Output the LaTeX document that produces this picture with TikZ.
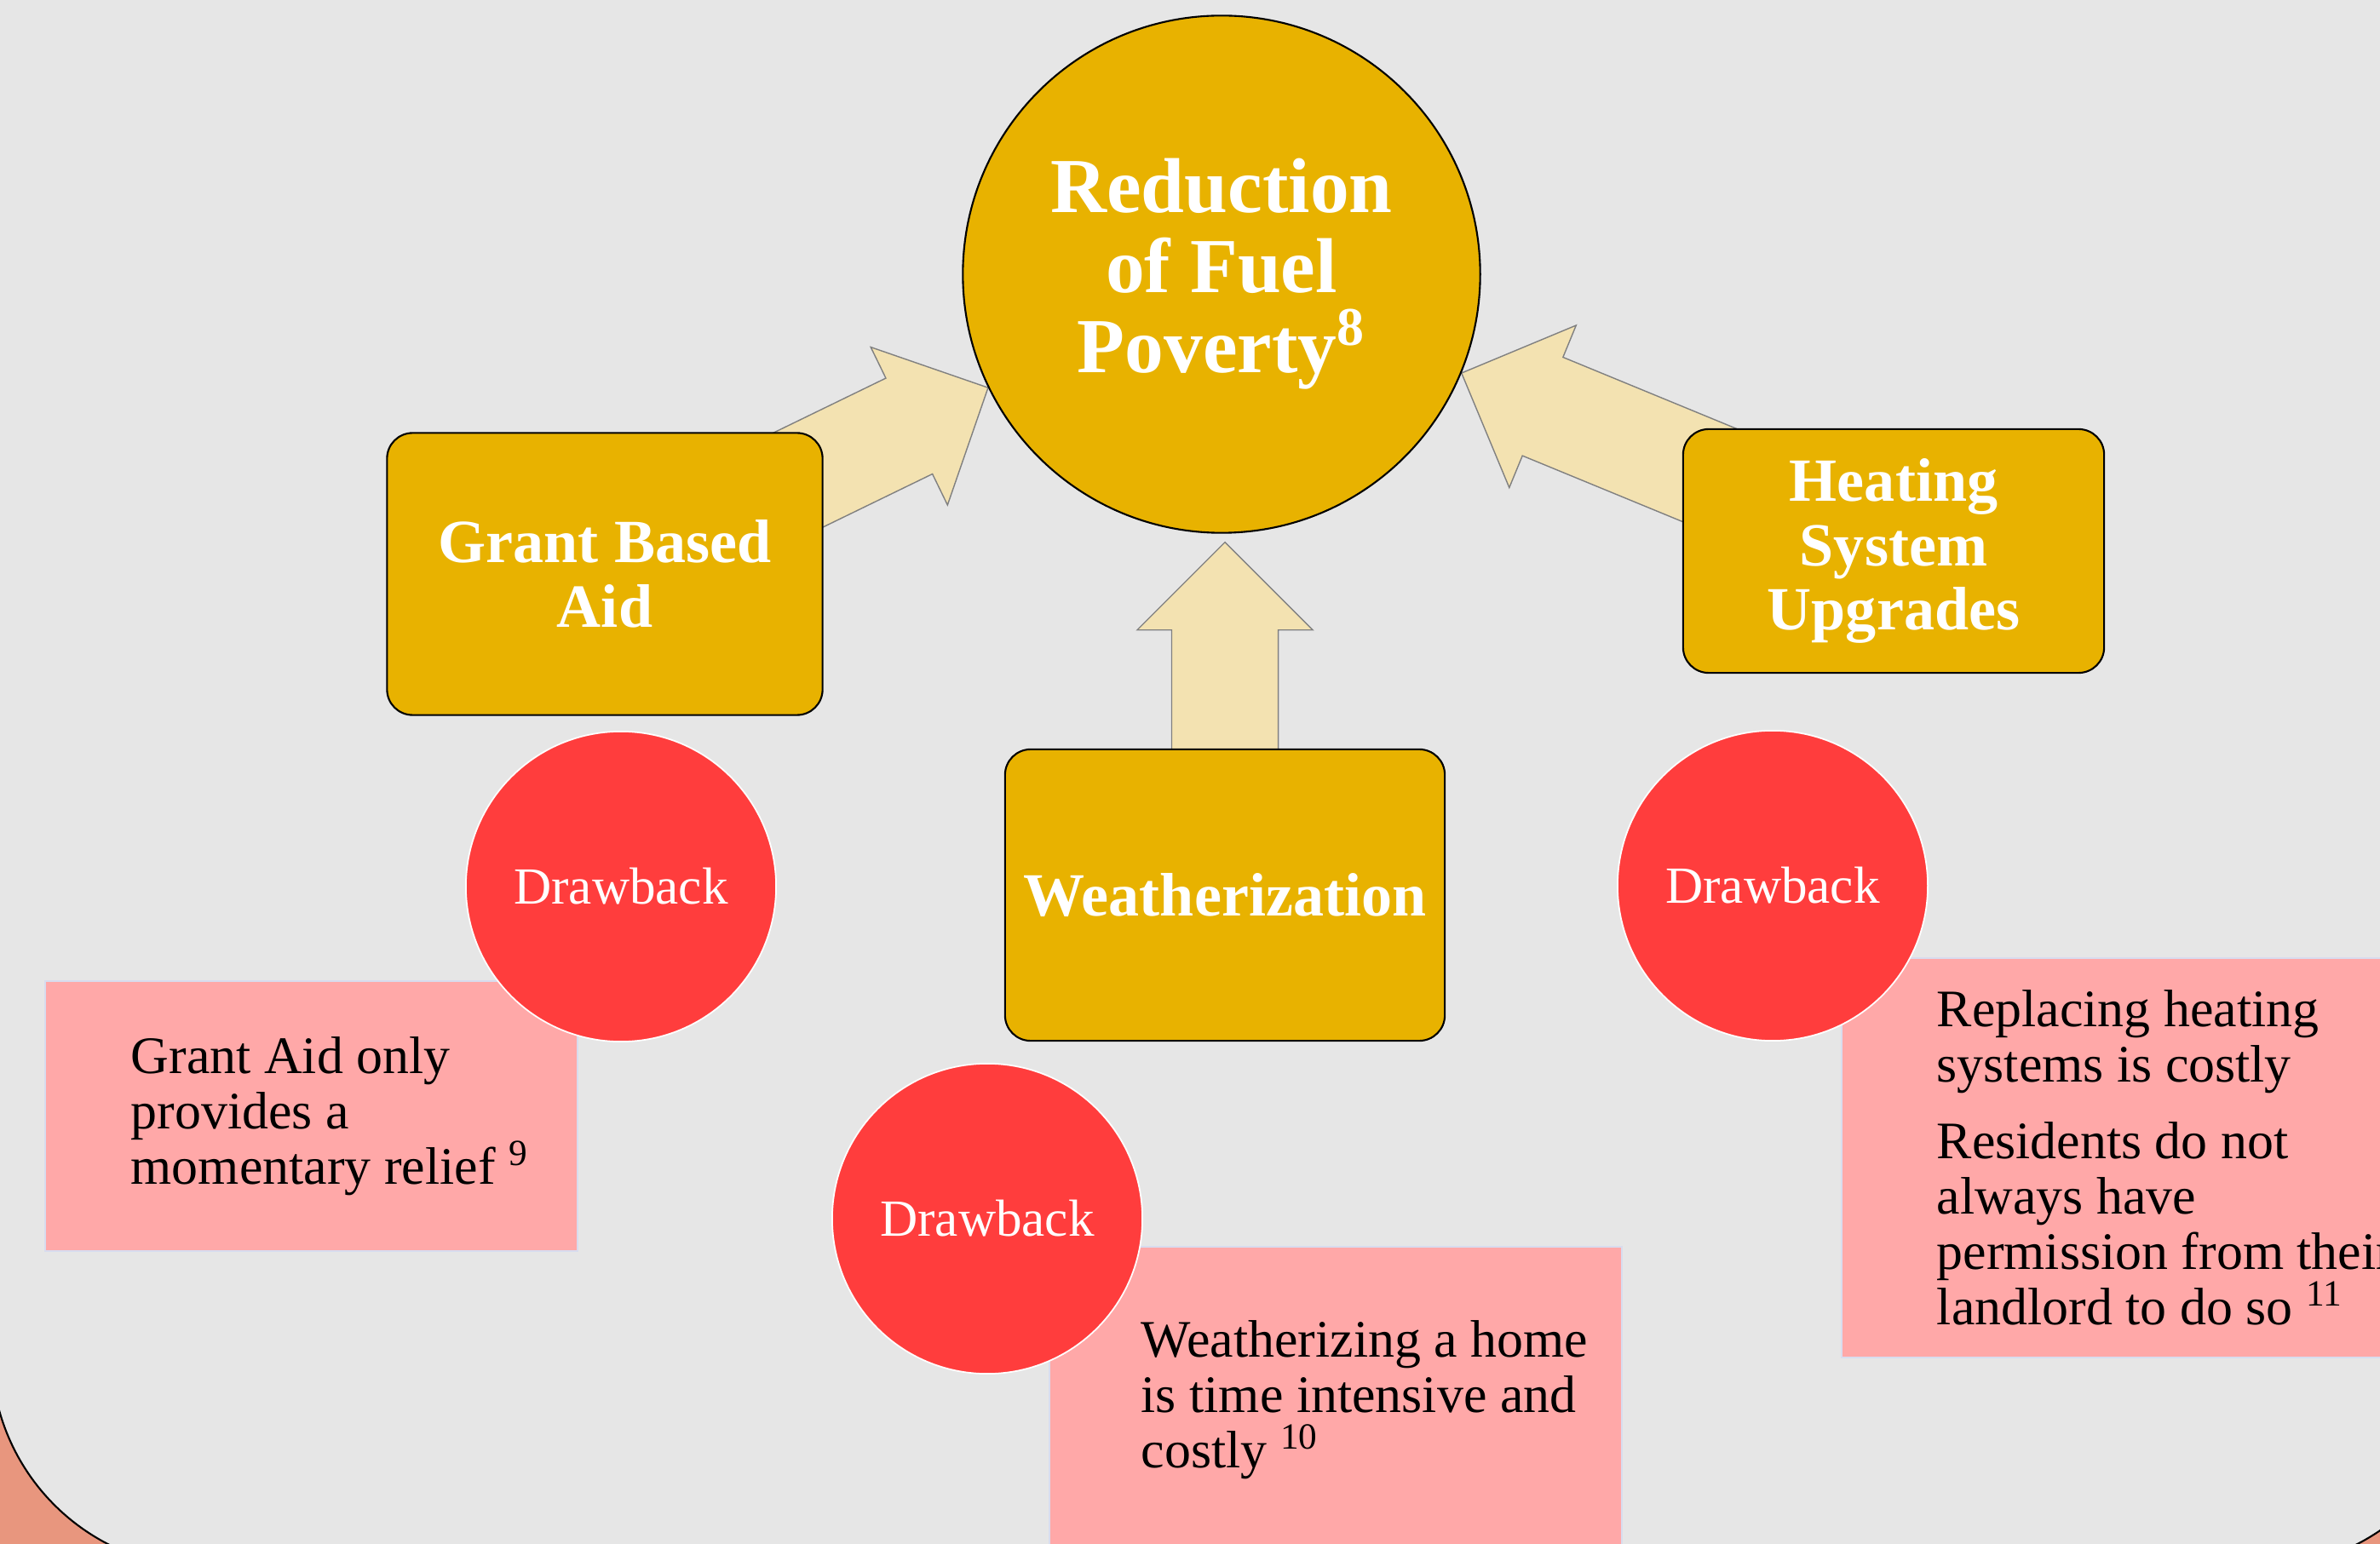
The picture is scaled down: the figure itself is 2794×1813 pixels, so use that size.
\documentclass[tikz,border=0pt]{standalone}
\usepackage{fontspec}
\setmainfont{Liberation Serif}
\usetikzlibrary{calc}

\definecolor{slidegrey}{HTML}{E6E6E6}
\definecolor{slideedge}{HTML}{E8967E}
\definecolor{gold}{HTML}{E8B200}
\definecolor{paleflow}{HTML}{F3E2B1}
\definecolor{flowline}{HTML}{808080}
\definecolor{alarm}{HTML}{FF3D3D}
\definecolor{notepink}{HTML}{FFA8A8}
\definecolor{noteedge}{HTML}{D8DCEE}

\pgfdeclarelayer{back}
\pgfdeclarelayer{flows}
\pgfsetlayers{back,flows,main}

\tikzset{
  aim/.style={circle, draw=black, line width=0.6pt, fill=gold, text=white,
    align=center, font=\fontsize{26}{26.7}\selectfont\bfseries,
    minimum size=6.07cm, inner sep=0pt},
  measure/.style={rectangle, rounded corners=0.3cm, draw=black, line width=0.6pt,
    fill=gold, text=white, align=center,
    font=\fontsize{20.5}{21.5}\selectfont\bfseries, inner sep=0pt},
  drawback/.style={circle, draw=white, line width=0.5pt, fill=alarm, text=white,
    font=\fontsize{17.4}{20}\selectfont, minimum size=3.64cm, inner sep=0pt},
  note/.style={rectangle, draw=noteedge, line width=0.5pt, fill=notepink,
    anchor=north west, inner sep=0pt},
  notetext/.style={align=left, anchor=west, inner sep=0pt,
    font=\fontsize{17.6}{18.5}\selectfont},
  flow/.style={fill=paleflow, draw=flowline, line width=0.4pt}
}

% block arrow from #1 (tail) to #2 (tip)
\newcommand\blockarrow[2]{%
  \coordinate (ab) at ($(#2)!1.03cm!(#1)$);
  \draw[flow] ($(#1)!0.625cm!90:(#2)$) -- ($(ab)!0.625cm!90:(#2)$)
    -- ($(ab)!1.03cm!90:(#2)$) -- (#2) -- ($(ab)!1.03cm!-90:(#2)$)
    -- ($(ab)!0.625cm!-90:(#2)$) -- ($(#1)!0.625cm!-90:(#2)$) -- cycle;}

\begin{document}
\begin{tikzpicture}[x=0.01cm, y=-0.01cm]
\useasboundingbox (0,0) rectangle (2794,1813);

\begin{pgfonlayer}{back}
\fill[slideedge] (0,0) rectangle (2794,1813);
\draw[fill=slidegrey, line width=0.6pt, rounded corners=2.52cm] (-10,-300) rectangle (2904,1841);
\end{pgfonlayer}

\node[aim] (goal) at (1434,322) {Reduction\\ of Fuel\\ Poverty\textsuperscript{8}};

\node[measure, minimum width=5.11cm, minimum height=3.31cm] (grant) at (710,674) {Grant Based\\ Aid};
\node[measure, minimum width=5.16cm, minimum height=3.42cm] (weather) at (1438,1051) {Weatherization};
\node[measure, minimum width=4.94cm, minimum height=2.86cm] (heat) at (2223,647) {Heating\\ System\\ Upgrades};

% notes under the circles
\node[note, minimum width=6.25cm, minimum height=3.17cm] (noteA) at (52,1151) {};
\node[notetext] (textA) at ([xshift=1.01cm]noteA.west)
  {Grant Aid only\\ provides a\\ momentary relief \textsuperscript{9}};
\node[note, minimum width=6.72cm, minimum height=3.6cm] (noteB) at (1231,1463) {};
\node[notetext] (textB) at ([xshift=1.08cm]noteB.west)
  {Weatherizing a home\\ is time intensive and\\ costly \textsuperscript{10}};
\node[note, minimum width=7.6cm, minimum height=4.69cm] (noteC) at (2161,1124) {};
\node[notetext] (textC) at ([xshift=1.12cm]noteC.west)
  {Replacing heating\\ systems is costly\\[7pt] Residents do not\\ always have\\ permission from their\\ landlord to do so \textsuperscript{11}};

\node[drawback] (snagA) at (729,1041) {Drawback};
\node[drawback] (snagB) at (1159,1431) {Drawback};
\node[drawback] (snagC) at (2081,1040) {Drawback};

\path (grant.center) -- (goal) coordinate[pos=1] (tipA);
\coordinate (tipB) at ($(goal.south -| weather.center)+(0,10)$);
\path (heat.center) -- (goal) coordinate[pos=1] (tipC);

\begin{pgfonlayer}{flows}
\blockarrow{grant.center}{tipA}
\blockarrow{weather.center}{tipB}
\blockarrow{heat.center}{tipC}
\end{pgfonlayer}
\end{tikzpicture}
\end{document}
